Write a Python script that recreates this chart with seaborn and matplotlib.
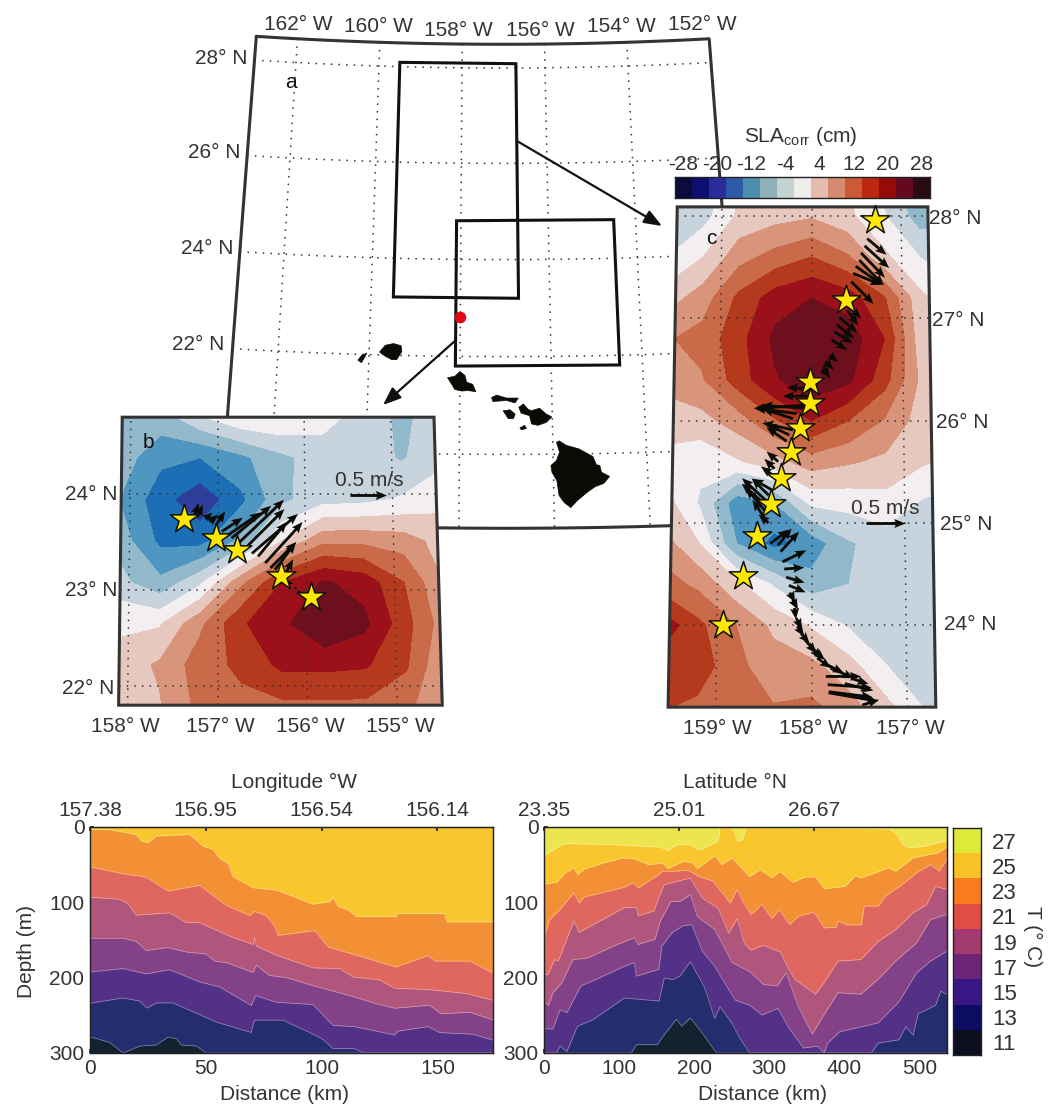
import numpy as np
import matplotlib
matplotlib.use('Agg')
import matplotlib.pyplot as plt
from matplotlib.colors import ListedColormap
from matplotlib.patches import Polygon
import seaborn as sns

sns.set_theme(style='ticks')
plt.rcParams['font.family'] = ['Liberation Sans', 'DejaVu Sans']
plt.rcParams['mathtext.default'] = 'regular'

W, H = 1055, 1107
TXT = '#333333'
FS = 15

# ---- SLA fields (cm) ----
sla_levels = np.arange(-30, 31, 4)
sla_colors = ['#0d0a3c', '#10107a', '#2E3F9E', '#1C6FB5', '#4F96C1', '#92B8CB', '#C7D4DD', '#F3EFF0',
              '#E6C8BE', '#D9957C', '#C96A48', '#B5391C', '#9C1019', '#6E0F1E', '#2a0a10']
sla_bar_colors = ['#0d0a3c', '#0e0e6e', '#2a2c9b', '#2c5aa8', '#4e8cb0', '#8fb2ba', '#c3d1d0', '#f0eeea',
                  '#e6bcae', '#d58b6f', '#cd5a34', '#b9280f', '#970a0a', '#650a1e', '#2a0a12']
sla_ticks = [-28, -20, -12, -4, 4, 12, 20, 28]

b_lon = [-158.2, -157.65, -157.2, -156.73, -156.27, -155.8, -155.35, -154.89, -154.4]
b_lat = [24.85, 24.38, 23.94, 23.51, 23.08, 22.65, 22.22, 21.75]
b_sla = [[-7, -7, -1, 3, 3, 0, -3, -7, -4],
         [-7, -13, -14, -11, -7, -4, -3.5, -6.5, -3],
         [-9, -16.5, -21, -15, -7, -3.5, -3, -1.5, 1],
         [-6.5, -15, -15.5, -9, 2, 9, 9, 8, 4],
         [-4, -9, -3, 9, 18, 22.5, 20.5, 14, 5],
         [1, 1.5, 9, 17.5, 21, 26, 23, 15.5, 7],
         [3.5, 6.5, 12, 15, 19, 19, 18.5, 14.5, 5],
         [3.5, 5.5, 11, 12.5, 12.5, 12.5, 12.5, 11, 4]]

c_lon = [-159.6, -159.2, -158.8, -158.4, -158.0, -157.6, -157.2, -156.8, -156.4]
c_lat = [28.4, 28.0, 27.6, 27.2, 26.8, 26.4, 26.0, 25.6, 25.2, 24.8, 24.4, 24.0, 23.6, 23.2]
c_sla = [[-7, -5, 1.5, 3, 3.5, 1.5, -3, -10, -9],
         [-5, -3.5, 3, 4.5, 5.5, 3, -1.5, -8, -7],
         [-2, 2, 8.5, 11.5, 14, 10.5, 3, -2, -4],
         [4, 8, 15, 20, 22, 20, 14.5, 3, -1],
         [9.5, 11.5, 16.5, 23, 26, 24.5, 18, 3.5, 0],
         [7.5, 9.5, 16, 21.5, 25, 23, 15.5, 5, 1],
         [3.5, 4.5, 8, 13.5, 18, 14, 9.5, 4, 0.5],
         [1, -1, 1.5, 4.5, 8, 6.5, 5, 2.5, 1],
         [4, -2.5, -12.5, -10, -1, -0.5, 0.5, -2.5, -4],
         [8, 2, -10, -15.5, -12.5, -6.5, -4, -4, -4.5],
         [12, 9, 3, -2.5, -8.5, -6, -4, -4, -4.5],
         [21, 15, 10, 5, 1.5, -2.5, -4, -4, -4.5],
         [16, 16.5, 11, 8, 7, 3.5, -2, -4, -4.5],
         [14.5, 13, 11.5, 10.2, 11, 7.5, 3, -2.5, -4.5]]

# ---- stations and velocity ----
b_star_lon = [-157.38, -157.02, -156.78, -156.28, -155.94]
b_star_lat = [23.74, 23.54, 23.42, 23.15, 22.93]
b_arr_lon = [-157.27, -157.23, -157.14, -157.09, -157.02, -156.95, -156.90, -156.84, -156.76, -156.69,
             -156.61, -156.54, -156.46, -156.40, -156.35, -156.25, -156.20, -156.12, -156.08]
b_arr_lat = [23.75, 23.76, 23.74, 23.71, 23.67, 23.61, 23.56, 23.54, 23.49, 23.43,
             23.38, 23.35, 23.28, 23.23, 23.21, 23.14, 23.08, 23.02, 22.98]
b_arr_u = [.07, .08, .10, .12, .13, .29, .48, .55, .63, .55, .64, .40, .52, .36, .29, .13, .07, .02, .02]
b_arr_v = [.21, .17, .09, .10, .20, .19, .33, .45, .60, .55, .55, .48, .57, .36, .38, .24, -.02, -.03, -.02]

c_star_lon = [-157.29, -157.62, -158.02, -158.02, -158.12, -158.22, -158.33, -158.43, -158.58, -158.73, -158.94]
c_star_lat = [27.96, 27.18, 26.375, 26.17, 25.93, 25.69, 25.44, 25.19, 24.87, 24.48, 24.0]
c_arr_lon = [-157.38, -157.41, -157.45, -157.47, -157.51, -157.54, -157.56, -157.58, -157.61, -157.69,
             -157.72, -157.75, -157.78, -157.80, -157.85, -157.87, -157.87,
             -158.02, -158.02, -158.09, -158.05, -158.16, -158.20,
             -158.20, -158.24, -158.27, -158.36, -158.40, -158.42, -158.42, -158.46, -158.49, -158.51,
             -158.49, -158.51, -158.46,
             -158.44, -158.36, -158.33, -158.31, -158.29, -158.27, -158.24,
             -158.23, -158.20, -158.18, -158.16, -158.15, -158.11, -158.07, -158.02, -157.98, -157.94,
             -157.87, -157.85, -157.80, -157.83, -157.82, -157.82, -157.65, -157.58, -157.47]
c_arr_lat = [27.78, 27.71, 27.64, 27.57, 27.51, 27.44, 27.36, 27.11, 27.08, 27.01,
             26.94, 26.87, 26.79, 26.64, 26.58, 26.50, 26.53,
             26.31, 26.24, 26.15, 26.12, 26.07, 26.02,
             25.91, 25.86, 25.80, 25.60, 25.53, 25.47, 25.32, 25.27, 25.22, 25.19,
             25.11, 25.06, 25.00,
             24.80, 24.78, 24.72, 24.62, 24.55, 24.47, 24.39,
             24.32, 24.25, 24.17, 24.07, 23.99, 23.92, 23.86, 23.82, 23.76, 23.68,
             23.63, 23.50, 23.58, 23.42, 23.35, 23.34, 23.43, 23.48, 23.22]
c_arr_u = [.25, .32, .31, .32, .34, .37, .29, .15, .15, .23, .22, .24, .20, .11, .11, .09, .07,
           -.30, -.35, -.64, -.59, -.55, -.40,
           -.40, -.31, -.26, -.15, -.13, -.15, -.26, -.22, -.31, -.29, -.26, -.15, -.13,
           .24, .18, .24, .31, .26, .24, .22,
           .07, .07, .02, .07, .09, .11, .15, .15, .15, .18,
           .26, .46, .31, .57, .57, .64, .37, .22, .22]
c_arr_v = [-.21, -.29, -.32, -.33, -.24, -.15, -.29, -.15, -.20, -.20, -.18, -.15, -.13, -.09, -.11, -.11, -.15,
           .02, 0, -.04, .04, .07, .13,
           .09, .15, .18, .13, .13, .11, .15, .22, .29, .26, .31, .22, .11,
           .18, .22, .26, .15, .02, -.07, -.09,
           -.13, -.13, -.15, -.15, -.13, -.13, -.18, -.20, -.13, -.13,
           -.13, 0, -.13, -.04, -.07, -.11, -.09, -.07, .07]

# ---- Hawaiian islands ----
islands = {
    'niihau': ([-160.24, -160.16, -160.05, -160.09, -160.16], [21.88, 21.98, 22.03, 21.95, 21.83]),
    'kauai': ([-159.77, -159.65, -159.47, -159.30, -159.28, -159.39, -159.50, -159.65],
              [22.06, 22.2, 22.24, 22.2, 22.08, 21.91, 21.91, 21.98]),
    'oahu': ([-158.27, -158.11, -158, -157.89, -157.85, -157.72, -157.65, -157.82, -157.96, -158.11, -158.18],
             [21.56, 21.59, 21.69, 21.61, 21.47, 21.43, 21.28, 21.30, 21.29, 21.32, 21.43]),
    'molokai': ([-157.31, -157.2, -156.98, -156.73, -156.8, -156.98, -157.28],
                [21.16, 21.21, 21.15, 21.15, 21.05, 21.1, 21.08]),
    'lanai': ([-157.06, -156.91, -156.8, -156.84, -156.95], [20.89, 20.91, 20.82, 20.73, 20.73]),
    'maui': ([-156.72, -156.62, -156.52, -156.45, -156.27, -156.13, -156.01, -156.13, -156.31, -156.45, -156.49, -156.67],
             [20.96, 21.03, 20.92, 20.89, 20.94, 20.82, 20.76, 20.65, 20.59, 20.62, 20.79, 20.84]),
    'kahoolawe': ([-156.7, -156.6, -156.56, -156.67], [20.54, 20.59, 20.53, 20.5]),
    'hawaii': ([-155.92, -155.86, -155.72, -155.44, -155.15, -155.08, -155.01, -154.98, -154.81, -154.94, -155.12,
                -155.29, -155.51, -155.65, -155.79, -155.89, -155.93, -156.03, -156.05, -155.93, -155.86],
               [20.24, 20.27, 20.18, 20.10, 19.94, 19.77, 19.76, 19.62, 19.53, 19.39, 19.33,
                19.22, 19.05, 18.91, 19.02, 19.16, 19.46, 19.63, 19.77, 19.87, 20.04]),
}

# ---- temperature sections: isotherm depth (m) against distance (km) ----
temp_colors = ['#EDE550', '#F9C62E', '#F38F35', '#DF675F', '#B0567C', '#834288', '#523187', '#242E6E', '#12222F']
temp_bar_colors = ['#DFE93A', '#F9C328', '#F97B20', '#E04E46', '#A33A70', '#6C2578', '#3A1585', '#0C0C62', '#0A0E1E']
temp_ticks = [27, 25, 23, 21, 19, 17, 15, 13, 11]

d_iso = [
    ([0, 8.5, 20, 22, 25, 28.6, 43, 48.8, 53, 56, 59.6, 61.7, 70.4, 80.4, 86, 96, 103.5, 105, 107, 111.4, 115, 132, 133, 153, 154, 174],
     [3.5, 3.5, 10, 18.5, 21, 12, 10, 25.5, 29.5, 42, 48.5, 66, 80.6, 83.7, 90, 102.6, 99, 94, 105, 110, 119, 119, 115, 115, 126, 126]),
    ([0, 14.2, 24.3, 33.7, 47.4, 58.8, 69, 71, 76, 80, 81, 97, 103, 113.8, 132, 146, 149, 164, 174],
     [53, 62, 66.5, 85, 77.5, 104, 117.5, 112, 117.5, 133, 144, 137.6, 159.6, 169, 185.8, 170.6, 178, 178, 194]),
    ([0, 12.8, 16.4, 20, 34.4, 41.6, 47.3, 60.3, 70.4, 71.1, 71.8, 81.2, 96.3, 107.8, 113.5, 125, 131.5, 146.6, 162.4, 174],
     [93, 96, 102, 117, 114, 127, 127, 145, 156, 147, 158, 171, 187, 188, 199, 203, 214, 216, 221, 230]),
    ([0, 14.2, 20, 24.3, 33.7, 41.6, 50.2, 53.8, 58.8, 70.4, 71.8, 77.5, 84.7, 96.3, 113.5, 123.6, 131.5, 146.6, 151.7, 164, 174],
     [147.6, 147.6, 152, 164, 160, 166, 168.6, 178, 180, 193, 183.6, 197, 200, 210.6, 225, 234.6, 240.6, 236.6, 248, 246, 256]),
    ([0, 14.2, 24.3, 34.4, 47.3, 56, 69.6, 71.5, 80.4, 96.3, 104.9, 114.2, 131.5, 133, 146, 151, 165.3, 174],
     [192.5, 188, 195, 189.4, 205.7, 212.3, 237, 223.8, 232.6, 235.7, 263.4, 265, 276, 271, 265, 273, 275, 283]),
    ([0, 14.2, 21.4, 24.6, 28.6, 35.8, 47.3, 54.5, 69.6, 71, 83.3, 96.3, 100.6, 104.9, 114.2, 118, 174],
     [234, 227, 231, 240.5, 233.5, 233.5, 249, 259, 272.7, 256.4, 256.4, 275, 282, 294, 294, 300, 300]),
    ([0, 8.5, 14.2, 21.4, 28.6, 33.7, 37.3, 39.4, 45.9, 50.2, 174],
     [278.4, 286, 300, 291, 289.4, 278.8, 281, 289.4, 290.7, 300, 300]),
]

e_iso = [
    ([0, 23.6, 33, 93, 149, 153, 165, 176.6, 195, 204, 211, 232, 234.5, 250.7, 257.6, 264.6, 269, 299, 459, 468.5, 478, 487, 510, 537],
     [38, 23.5, 22, 23.5, 26.5, 25.7, 31.4, 23.5, 23.5, 30, 29, 19, 1, 1, 19, 17, 1, 1, 2.6, 8, 23.5, 28, 25, 17.7]),
    ([0, 16.7, 28.3, 39.4, 45, 53.7, 79.2, 104.7, 120.9, 139.4, 158, 165, 185.8, 197.4, 204.4, 227.5, 236.8, 250.7, 273.9, 287.8,
      304, 313.5, 331.6, 347.8, 361.7, 373.3, 401.2, 415, 422.2, 440.8, 459.3, 468.6, 491.8, 524.2, 537],
     [75.7, 73.5, 61, 54.4, 63.3, 55.8, 47.8, 41.2, 42.5, 50, 47.8, 55.3, 45.6, 46.9, 55.3, 38, 50, 41.2, 66, 56.6,
      67.7, 58.8, 73.5, 66.4, 66.4, 82, 78.8, 64.6, 67.7, 61, 54.4, 58.8, 41, 34.5, 26.5]),
    ([0, 7.4, 19, 39.8, 46.8, 53.7, 107, 118.6, 125.5, 151, 158, 174, 192.6, 204.4, 225, 248, 257.6, 264.6, 276, 290,
      304, 313.5, 327.2, 338.8, 359.6, 373.3, 389.5, 391.8, 403.5, 423, 426.7, 445.3, 454.6, 477.8, 496.3, 515, 526.6, 537],
     [147.3, 123, 112, 87.6, 101, 93, 80, 74, 81, 64.6, 58.8, 58.8, 57.5, 65, 72, 100.9, 83, 98.6, 116.4, 103,
      121.6, 110, 129.6, 118.6, 113, 134, 133, 125, 130, 130, 105, 105, 92, 76, 61, 50, 58.4, 43]),
    ([0, 5, 14.3, 19, 39.8, 46.8, 107, 123, 125.5, 146.4, 153.4, 160.3, 185.8, 195, 211.2, 232, 246, 257.6, 267, 276,
      292, 315, 324.7, 334, 361.7, 373.3, 391.8, 422, 445.3, 468.6, 491.8, 510, 521.8, 537],
     [196, 196, 176, 178, 125, 140, 107, 107, 118, 111.5, 93, 76.5, 70, 68, 94.7, 108, 141, 121.6, 154.9, 163.7,
      157, 166, 186, 202, 222, 206.6, 178, 176, 152, 136.5, 114, 103, 79, 83]),
    ([0, 6, 12, 23.6, 38.5, 58, 92.7, 120.4, 125, 148, 155, 169, 180.8, 195, 204.4, 227.5, 250.7, 274, 292.5, 311,
      322.6, 338.8, 357.4, 373.3, 391.8, 422, 445.3, 468.6, 496.3, 515, 537],
     [231.5, 237, 220, 207, 176, 174, 158, 147, 156, 149, 125, 99, 99, 90, 119, 136, 180, 192, 209, 211,
      193.5, 238, 275, 249, 220, 222, 202, 178, 154, 123, 116]),
    ([0, 12, 21.3, 30.6, 49, 70, 107, 120.4, 123, 153, 157, 171, 185.4, 197, 211, 227.5, 241.3, 255, 274, 290.5,
      311.4, 325, 345.7, 364.2, 373.3, 378, 394, 422, 445.3, 473, 496.3, 515, 537],
     [268, 268, 243, 246.5, 211, 202, 185, 180, 198, 189, 158, 140, 131, 129.6, 165, 185, 208, 230, 236.6, 249.6,
      240.7, 264.6, 293.4, 291, 300, 287, 271.7, 265.5, 260, 232, 194, 178, 165]),
    ([0, 16.7, 21.3, 30.6, 44.5, 65.3, 107, 153.4, 160.3, 171.8, 181, 195, 213.5, 227.5, 234.5, 250.7, 260, 273.9, 436, 445.3,
      473, 482.3, 491.8, 498.7, 521.8, 528.8, 537],
     [300, 300, 291, 298, 264.6, 255.8, 227, 231, 200.4, 202.6, 198, 179, 212, 254, 238.6, 261, 278.8, 300, 300, 287,
      282.5, 265, 276.5, 247.8, 236.7, 218, 222.5]),
    ([0, 116.3, 123.3, 151, 160.3, 176.6, 183.5, 195, 209, 229.8, 537],
     [300, 300, 289, 289, 275.7, 255, 264.6, 253.5, 271, 300, 300]),
]


# ---- projections onto the page ----
def proj_a(lon, lat):
    lon, lat = np.asarray(lon, float), np.asarray(lat, float)
    d, dl = 28 - lat, lon + 158
    return 462 - 0.33 * d + dl * (41.5 + 0.667 * d), 68 + 47.5 * d + 0.1 * d ** 2 - 0.22 * (dl - 1) ** 2


def proj_b(lon, lat):
    lon, lat = np.asarray(lon, float), np.asarray(lat, float)
    return 217.5 + (lon + 157) * (86.6 + (24.8 - lat) * 1.1), 590 + (23 - lat) * 96


def proj_c(lon, lat):
    lon, lat = np.asarray(lon, float), np.asarray(lat, float)
    return 811.5 + (lon + 158) * (89.5 + (28.09 - lat) * 1.25), 523 + (25 - lat) * 102.3


def axes_px(l, t, r, b):
    return fig.add_axes([l / W, 1 - b / H, (r - l) / W, (b - t) / H])


def box_edge(proj, lon0, lon1, lat0, lat1):
    x0, y0 = proj([lon0, lon1, lon1, lon0], [lat1, lat1, lat0, lat0])
    return np.column_stack([x0, y0])


fig = plt.figure(figsize=(W / 100, H / 100), dpi=100)
ax = axes_px(0, 0, W, H)
ax.set_xlim(0, W)
ax.set_ylim(H, 0)
ax.axis('off')

DOT = dict(color='#333333', lw=1.1, linestyle=(0, (1, 4)))
ARROW = dict(angles='xy', scale_units='xy', scale=1, units='xy', width=2.8, headwidth=3.2, headlength=4,
             headaxislength=3.5, color='#0b0b06', zorder=7)

# ---- panel a ----
frame_lon = np.r_[np.linspace(-163, -152, 40), np.full(20, -152), np.linspace(-152, -163, 40), np.full(20, -163)]
frame_lat = np.r_[np.full(40, 28.5), np.linspace(28.5, 18.5, 20), np.full(40, 18.5), np.linspace(18.5, 28.5, 20)]
fx, fy = proj_a(frame_lon, frame_lat)
ax.plot(fx, fy, color='#333333', lw=2.2, zorder=2)
for lon in [-162, -160, -158, -156, -154]:
    gx, gy = proj_a(np.full(30, lon), np.linspace(28.5, 18.5, 30))
    ax.plot(gx, gy, zorder=1, **DOT)
for lat in [28, 26, 24, 22, 20]:
    gx, gy = proj_a(np.linspace(-163, -152, 40), np.full(40, lat))
    ax.plot(gx, gy, zorder=1, **DOT)
for name, (ilon, ilat) in islands.items():
    ix, iy = proj_a(ilon, ilat)
    ax.add_patch(Polygon(np.column_stack([ix, iy]), closed=True, fc='#0b0b06', ec='#0b0b06', lw=0.5, zorder=3))
for edge in [(-159.5, -156.7, 23.2, 28.09), (-158.1, -154.5, 21.8, 24.8)]:
    ax.add_patch(Polygon(box_edge(proj_a, *edge), closed=True, fill=False, ec='#111111', lw=2.2, zorder=3))
rx, ry = proj_a([-158], [22.8])
sns.scatterplot(x=rx, y=ry, ax=ax, color='#E30613', s=70, linewidth=0, zorder=4, legend=False)
for start, end in [((517, 141), (662, 226)), ((456, 340), (383, 405))]:
    ax.annotate('', xy=end, xytext=start, zorder=4,
                arrowprops=dict(arrowstyle='-|>,head_width=0.35,head_length=0.9', color='#111111', lw=1.6,
                                shrinkA=0, shrinkB=0))


def draw_panel(proj, lon, lat, field, edge, grid_lon, grid_lat, slon, slat, alon, alat, u, v, speed):
    lon2, lat2 = np.meshgrid(lon, lat)
    X, Y = proj(lon2, lat2)
    poly = Polygon(box_edge(proj, *edge), closed=True, fill=False, ec='#333333', lw=2.2, zorder=8)
    ax.add_patch(poly)
    cs = ax.contourf(X, Y, np.array(field), levels=sla_levels, colors=sla_colors, zorder=5)
    cs.set_clip_path(poly)
    for g in grid_lon:
        gx, gy = proj(np.full(2, g), np.array([edge[2], edge[3]]))
        ax.plot(gx, gy, zorder=6, **DOT)
    for g in grid_lat:
        gx, gy = proj(np.array([edge[0], edge[1]]), np.full(2, g))
        ax.plot(gx, gy, zorder=6, **DOT)
    qx, qy = proj(alon, alat)
    ax.quiver(qx, qy, np.array(u) * speed, -np.array(v) * speed, **ARROW)
    sx, sy = proj(slon, slat)
    sns.scatterplot(x=sx, y=sy, ax=ax, marker='*', s=470, color='#FFE800', edgecolor='#111111', linewidth=1.1,
                    zorder=9, legend=False)


draw_panel(proj_b, b_lon, b_lat, b_sla, (-158.1, -154.5, 21.8, 24.8), [-158, -157, -156, -155], [22, 23, 24],
           b_star_lon, b_star_lat, b_arr_lon, b_arr_lat, b_arr_u, b_arr_v, 72)
draw_panel(proj_c, c_lon, c_lat, c_sla, (-159.5, -156.7, 23.2, 28.09), [-159, -158, -157], [24, 25, 26, 27, 28],
           c_star_lon, c_star_lat, c_arr_lon, c_arr_lat, c_arr_u, c_arr_v, 77)

# 0.5 m/s reference arrows
ax.quiver([350], [495], [0.5 * 73], [0], **ARROW)
ax.quiver([866], [523], [0.5 * 78], [0], **ARROW)

map_labels = [('162° W', 298, 24), ('160° W', 378, 27), ('158° W', 458, 30), ('156° W', 540, 30),
              ('154° W', 621, 27), ('152° W', 702, 24),
              ('28° N', 221, 58), ('26° N', 214, 152), ('24° N', 207, 249), ('22° N', 198, 345),
              ('158° W', 125, 726), ('157° W', 220, 726), ('156° W', 310, 726), ('155° W', 400, 726),
              ('24° N', 91, 494), ('23° N', 91, 591), ('22° N', 88, 689),
              ('159° W', 717, 729), ('158° W', 813, 729), ('157° W', 910, 729),
              ('28° N', 955, 218), ('27° N', 958, 320), ('26° N', 962, 422), ('25° N', 966, 525), ('24° N', 970, 625),
              ('0.5 m/s', 369, 480), ('0.5 m/s', 885, 508)]
for label, lx, ly in map_labels:
    ax.text(lx, ly, label, ha='center', va='center', fontsize=FS, color=TXT, zorder=10)
for label, lx, ly in [('a', 291, 83), ('b', 148, 442), ('c', 711, 238), ('d', 123, 851), ('e', 577, 849)]:
    ax.text(lx, ly, label, ha='center', va='center', fontsize=FS, color='#111111', zorder=10)
ax.text(801, 136, 'SLA$_{corr}$ (cm)', ha='center', va='center', fontsize=FS, color=TXT, zorder=10)

# ---- SLA colour bar ----
cax = axes_px(675, 177, 930, 198)
sns.heatmap(np.arange(15).reshape(1, 15), ax=cax, cmap=ListedColormap(sla_bar_colors), cbar=False,
            xticklabels=False, yticklabels=False)
cax.xaxis.tick_top()
cax.set_xticks(np.arange(0.5, 15, 2))
cax.set_xticklabels(sla_ticks, rotation=0, fontsize=FS, color=TXT)
cax.tick_params(axis='x', direction='in', length=3, pad=2, color='#222222')
for s in cax.spines.values():
    s.set_visible(True)
    s.set_linewidth(1.0)
    s.set_color('#222222')


# ---- temperature sections ----
def draw_section(box, lines, cols, bg, xmax, xticks, top_ticks, top_labels):
    sec = axes_px(*box)
    sec.fill_between([0, xmax], 0, 300, color=bg, lw=0)
    for (dist, depth), col in zip(lines, cols):
        sec.fill_between(dist, depth, 300, color=col, lw=0)
    for dist, depth in lines:
        sns.lineplot(x=dist, y=depth, ax=sec, color='white', lw=0.5, alpha=0.45, sort=False, estimator=None, legend=False)
    sec.set_xlim(0, xmax)
    sec.set_ylim(300, 0)
    sec.set_xticks(xticks)
    sec.set_yticks([0, 100, 200, 300])
    sec.set_xlabel('')
    sec.set_ylabel('')
    sec.tick_params(direction='in', length=3, pad=4, labelsize=FS, labelcolor=TXT, color='#222222')
    top = sec.twiny()
    top.set_xlim(0, xmax)
    top.set_xticks(top_ticks)
    top.set_xticklabels(top_labels)
    top.tick_params(direction='in', length=3, pad=5, labelsize=FS, labelcolor=TXT, color='#222222')
    for s in list(sec.spines.values()) + list(top.spines.values()):
        s.set_linewidth(0.9)
        s.set_color('#222222')
    return sec


draw_section((90, 827, 493, 1053), d_iso, temp_colors[2:], temp_colors[1], 174,
             [0, 50, 100, 150], [0, 50, 100, 150], ['157.38', '156.95', '156.54', '156.14'])
draw_section((544, 827, 947, 1053), e_iso, temp_colors[1:], temp_colors[0], 537,
             [0, 100, 200, 300, 400, 500], [0, 180, 360], ['23.35', '25.01', '26.67'])

tax = axes_px(953, 828, 981, 1055)
sns.heatmap(np.arange(9).reshape(9, 1), ax=tax, cmap=ListedColormap(temp_bar_colors), cbar=False,
            xticklabels=False, yticklabels=False)
tax.yaxis.tick_right()
tax.set_yticks(np.arange(0.5, 9, 1))
tax.set_yticklabels(temp_ticks, rotation=0, fontsize=FS + 1, color=TXT)
tax.tick_params(axis='y', direction='in', length=3, pad=8, color='#222222')
for s in tax.spines.values():
    s.set_visible(True)
    s.set_linewidth(1.0)
    s.set_color('#222222')

for label, lx, ly, rot in [('Longitude °W', 294, 782, 0), ('Latitude °N', 735, 782, 0),
                           ('Distance (km)', 285, 1094, 0), ('Distance (km)', 763, 1094, 0),
                           ('Depth (m)', 26, 951, 90), ('T (° C)', 1033, 937, 270)]:
    ax.text(lx, ly, label, ha='center', va='center', rotation=rot, fontsize=FS, color=TXT, zorder=10)

fig.savefig('out.png', dpi=100)
